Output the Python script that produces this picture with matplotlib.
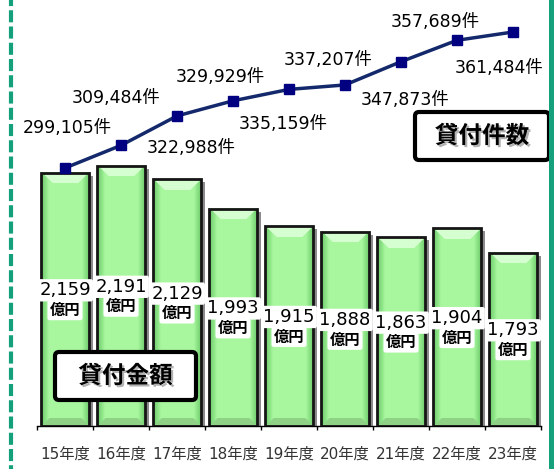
import numpy as np
import matplotlib.pyplot as plt
import matplotlib.patheffects as pe
from matplotlib.patches import Rectangle, FancyBboxPatch
from matplotlib.lines import Line2D

plt.rcParams['font.family'] = ['DejaVu Sans', 'Noto Sans CJK JP']

# data
years = ['15年度', '16年度', '17年度', '18年度', '19年度', '20年度', '21年度', '22年度', '23年度']
amounts = [2159, 2191, 2129, 1993, 1915, 1888, 1863, 1904, 1793]   # 貸付金額 (億円)
counts = [299105, 309484, 322988, 329929, 335159, 337207, 347873, 357689, 361484]  # 貸付件数 (件)

# label offsets for the count labels, in pixels (dx, dy down)
count_offsets = [(2, -40), (-5, -47), (14, 32), (-13, -24), (-6, 35),
                 (-17, -25), (4, 38), (-22, -18), (-14, 36)]

W, H = 556, 469
fig = plt.figure(figsize=(W / 100, H / 100), dpi=100)
fig.patch.set_facecolor('white')

ax = fig.add_axes([37 / W, 43 / H, 504 / W, 426 / H])
ax2 = ax.twinx()

ylo, yhi = 1000, 2949
xpx = 504 / 9                 # pixels per category
ypx = (yhi - ylo) / 426       # data units per pixel
bw = 0.86

base = np.array([0.66, 0.97, 0.62])
dark = np.array([0.40, 0.78, 0.40])
light = np.array([0.84, 1.00, 0.82])

for i, v in enumerate(amounts):
    x0 = i - bw / 2
    # drop shadow
    ax.add_patch(Rectangle((x0 + 4 / xpx, ylo), bw, v - ylo - 3 * ypx,
                           facecolor='black', alpha=0.45, lw=0, zorder=1))
    # bevelled face
    w = 48
    h = int(round((v - ylo) / ypx))
    X = np.arange(w) + 0.5
    Y = (np.arange(h) + 0.5)[:, None]
    d = np.minimum(X, w - X)[None, :]
    s = np.clip(d / 8, 0, 1)[..., None]
    img = dark * (1 - s) + base * s
    img = np.broadcast_to(img, (h, w, 3)).copy()
    top = (Y < 11) & (Y < d)
    img[top] = light
    bot = (Y > h - 8) & ((h - Y) < d)
    img[bot] = base * 0.85
    ax.imshow(img, extent=(x0, x0 + bw, ylo, v), aspect='auto',
              interpolation='bilinear', zorder=2)
    ax.add_patch(Rectangle((x0, ylo), bw, v - ylo, fill=False,
                           edgecolor='#151515', lw=2, zorder=3))
    mid = (ylo + v) / 2
    ax.annotate(f'{v:,}', (i, mid), xytext=(0, 6.5), textcoords='offset points',
                ha='center', va='center', fontsize=13, color='black', zorder=5,
                bbox=dict(boxstyle='round,pad=0.12', fc='white', ec='none'))
    ax.annotate('億円', (i, mid), xytext=(0, -8), textcoords='offset points',
                ha='center', va='center', fontsize=11, fontweight='bold',
                color='black', zorder=5,
                bbox=dict(boxstyle='round,pad=0.15', fc='white', ec='none'))

ax.set_xlim(-0.5, 8.5)
ax.set_ylim(ylo, yhi)
ax.set_xticks(range(len(years)))
ax.set_xticklabels(years, fontsize=11, color='#333333')
ax.set_xticks(np.arange(-0.5, 9, 1), minor=True)
ax.tick_params(axis='x', which='major', length=0, pad=15)
ax.tick_params(axis='x', which='minor', length=3, width=1, color='black')
ax.set_yticks([])
for side in ['top', 'left', 'right']:
    ax.spines[side].set_visible(False)
ax.spines['bottom'].set_color('black')
ax.spines['bottom'].set_linewidth(1)

# line of counts
ax2.plot(range(len(counts)), counts, color='#14296b', lw=2.5, marker='s',
         ms=7.5, mfc='#000080', mec='#000080', zorder=3)
ax2.set_ylim(180760, 376167)
ax2.set_yticks([])
for side in ax2.spines:
    ax2.spines[side].set_visible(False)
for i, c in enumerate(counts):
    dx, dy = count_offsets[i]
    ax2.annotate(f'{c:,}件', (i, c), xytext=(dx * 0.72, -dy * 0.72),
                 textcoords='offset points', ha='center', va='center',
                 fontsize=12.5, color='black')

# frame lines
fig.add_artist(Line2D([11 / W, 11 / W], [0, 1], transform=fig.transFigure,
                      color='#14a07a', lw=3, linestyle=(2, (2.9, 1.0))))
fig.add_artist(Line2D([550.5 / W, 550.5 / W], [0, 1], transform=fig.transFigure,
                      color='#14a07a', lw=3.6))

# legend boxes
def label_box(x0, y0, x1, y1, text):
    fig.add_artist(FancyBboxPatch((x0 / 100, (H - y1) / 100), (x1 - x0) / 100,
                                  (y1 - y0) / 100,
                                  boxstyle='round,pad=0,rounding_size=0.04',
                                  transform=fig.dpi_scale_trans, fc='white',
                                  ec='black', lw=3))
    fig.text((x0 + x1) / 200, (H - (y0 + y1) / 2) / 100, text,
             transform=fig.dpi_scale_trans, ha='center', va='center',
             fontsize=17, fontweight='bold', family='Noto Sans CJK JP',
             path_effects=[pe.SimplePatchShadow(offset=(1.5, -1.5),
                                                shadow_rgbFace='gray', alpha=0.6),
                           pe.Normal()])

label_box(415, 112, 549, 160, '貸付件数')
label_box(55, 352, 196, 400, '貸付金額')

fig.savefig('out.png', dpi=100)
